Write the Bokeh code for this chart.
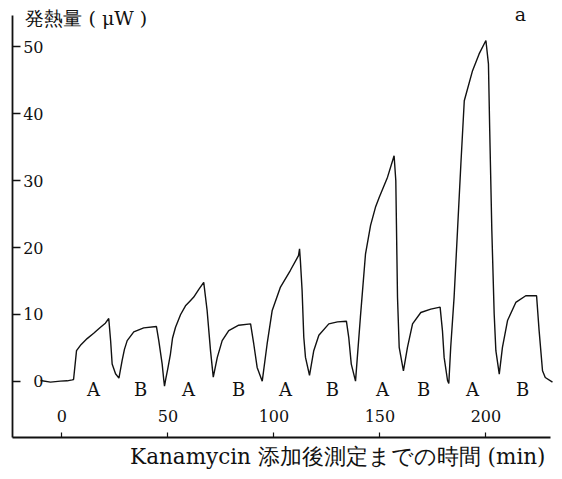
from bokeh.plotting import figure
from bokeh.models import FixedTicker, Label, Range1d, ColumnDataSource, Title
from bokeh.core.properties import value
from bokeh.embed import file_html
from bokeh.resources import INLINE

# --- data -------------------------------------------------------------------
time_min = [-10.1, -5.4, -0.7, 2.5, 4.9, 5.5, 6.9, 9.0, 11.9, 15.0, 18.2, 20.5, 22.1,
            23.0, 23.7, 25.3, 26.9, 28.4, 29.5, 30.8, 33.9, 38.6, 44.6, 45.7, 47.3,
            48.0, 48.4, 49.0, 50.0, 51.2, 52.2, 53.6, 56.0, 58.3, 60.7, 62.2, 64.5,
            66.9, 68.5, 70.1, 71.4, 73.3, 75.6, 78.7, 83.4, 89.0, 90.5, 92.1, 94.5,
            96.8, 99.2, 103.1, 107.8, 111.6, 112.1, 112.5, 113.3, 114.1, 114.9, 116.8,
            118.8, 121.2, 125.9, 130.0, 134.2, 135.3, 136.5, 138.5, 140.8, 143.2, 145.6,
            147.9, 149.7, 153.6, 156.7, 157.5, 157.8, 158.3, 159.1, 161.1, 163.0, 165.4,
            169.3, 174.0, 178.4, 179.5, 180.3, 181.9, 182.5, 183.4, 185.0, 186.6, 188.2,
            189.8, 193.7, 196.8, 200.0, 201.2, 201.8, 202.8, 203.9, 204.7, 206.3, 207.8,
            210.2, 214.1, 218.8, 223.9, 225.1, 226.7, 228.0, 231.4]
heat_uw = [0.15, -0.1, 0.05, 0.1, 0.25, 0.3, 4.6, 5.5, 6.4, 7.2, 8.1, 8.7, 9.4,
           6.0, 2.6, 1.15, 0.5, 3.1, 4.8, 6.1, 7.4, 8.0, 8.2, 6.1, 2.6,
           0.4, -0.7, 0.4, 2.0, 4.1, 6.5, 8.1, 10.0, 11.3, 12.1, 12.6, 13.7,
           14.8, 10.6, 4.6, 0.65, 3.6, 6.1, 7.6, 8.4, 8.6, 5.6, 2.1, 0.05,
           5.6, 10.6, 14.1, 16.6, 18.8, 19.8, 18.0, 13.6, 6.6, 3.6, 0.9,
           4.6, 6.9, 8.6, 8.9, 9.0, 6.6, 2.6, 0.05, 9.6, 19.0, 23.3,
           26.0, 27.5, 30.5, 33.7, 30.0, 23.5, 12.6, 5.1, 1.6, 5.1, 8.6,
           10.3, 10.8, 11.1, 7.6, 3.6, 0.15, -0.3, 5.1, 12.6, 22.5, 32.5,
           41.9, 46.4, 48.9, 50.9, 47.4, 37.5, 22.5, 10.1, 4.6, 1.1, 5.1,
           9.1, 11.8, 12.8, 12.8, 7.6, 1.6, 0.6, -0.1]

x_ticks = [0, 50, 100, 150, 200]
y_ticks = [0, 10, 20, 30, 40, 50]

phase_labels = ["A", "B", "A", "B", "A", "B", "A", "B", "A", "B"]
phase_pos = [14.9, 37.1, 59.7, 83.3, 105.5, 127.6, 151.2, 170.6, 193.7, 217.3]
phase_level = [-1.2] * len(phase_labels)

y_title = "発熱量 ( μW )"
x_title = "Kanamycin 添加後測定までの時間 (min)"
panel_tag = "a"

SERIF = "DejaVu Serif"

# --- figure -------------------------------------------------------------------
p = figure(width=562, height=479, output_backend="svg", toolbar_location=None,
           title=None,
           x_range=Range1d(-23.3, 236.13), y_range=Range1d(-8.36, 56.87),
           min_border_left=12, min_border_right=0,
           min_border_top=0, min_border_bottom=42)
p.outline_line_color = None
p.grid.visible = False
p.background_fill_color = "white"
p.border_fill_color = "white"

# axes: ticks pointing inward, labels inside the frame
p.xaxis.bounds = (-23.3, 230.4)
p.xaxis.ticker = FixedTicker(ticks=x_ticks, minor_ticks=[])
p.xaxis.major_tick_in = 5
p.xaxis.major_tick_out = 0
p.xaxis.minor_tick_in = 0
p.xaxis.minor_tick_out = 0
p.xaxis.major_label_standoff = -28
p.xaxis.major_label_text_font = SERIF
p.xaxis.major_label_text_font_size = "16px"
p.xaxis.major_label_text_color = "#111111"
p.xaxis.axis_line_width = 1.8
p.xaxis.axis_line_color = "#111111"
p.xaxis.major_tick_line_color = "#111111"
p.xaxis.major_tick_line_width = 1.2

p.yaxis.bounds = (-8.36, 54.63)
p.yaxis.ticker = FixedTicker(ticks=y_ticks, minor_ticks=[])
p.yaxis.major_tick_in = 8
p.yaxis.major_tick_out = 0
p.yaxis.minor_tick_in = 0
p.yaxis.minor_tick_out = 0
p.yaxis.major_label_standoff = -31
p.yaxis.major_label_text_font = SERIF
p.yaxis.major_label_text_font_size = "16px"
p.yaxis.major_label_text_color = "#111111"
p.yaxis.axis_line_width = 1.8
p.yaxis.axis_line_color = "#111111"
p.yaxis.major_tick_line_color = "#111111"
p.yaxis.major_tick_line_width = 1.6

# curve
src = ColumnDataSource(dict(t=time_min, q=heat_uw))
p.line("t", "q", source=src, line_color="#111111", line_width=1.4)

# phase labels A / B
lab_src = ColumnDataSource(dict(x=phase_pos, y=phase_level, text=phase_labels))
p.text("x", "y", text="text", source=lab_src, text_align="center",
       text_baseline="middle", text_font=value(SERIF), text_font_size="18px",
       text_color="#111111")

# titles
p.add_layout(Label(x=-17.2, y=54.3, text=y_title, text_align="left",
                   text_baseline="middle", text_font=SERIF,
                   text_font_size="19px", text_color="#111111"))
p.add_layout(Label(x=216.3, y=54.9, text=panel_tag, text_align="center",
                   text_baseline="middle", text_font=SERIF,
                   text_font_size="19px", text_color="#111111"))
p.add_layout(Title(text=x_title, align="right", offset=17, standoff=8,
                   text_font=SERIF, text_font_size="21.5px",
                   text_font_style="normal", text_color="#111111"), "below")

open("out.html", "w").write(file_html(p, INLINE))
